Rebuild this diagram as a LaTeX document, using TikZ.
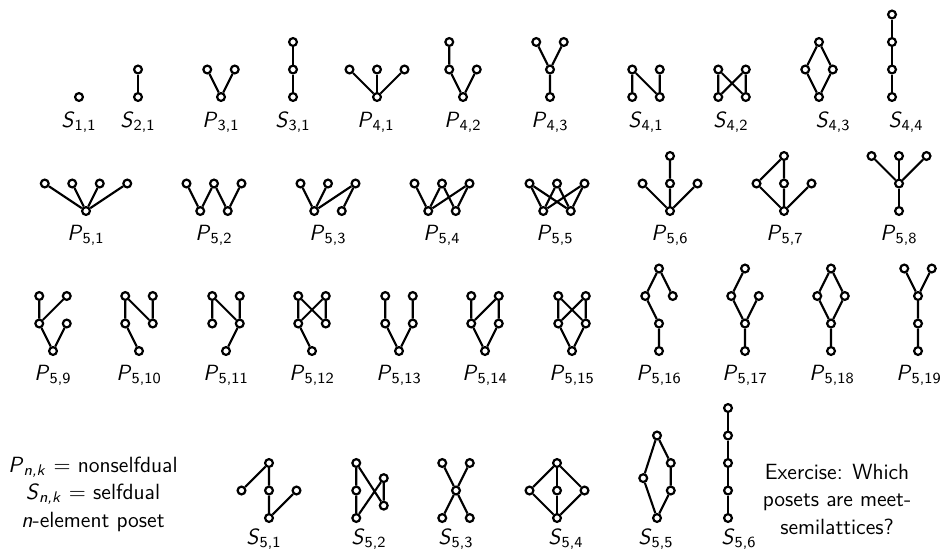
\documentclass[tikz,border=0pt]{standalone}
\usepackage{fontspec}
\newcommand{\pn}[2]{\textit{#1}\textsubscript{#2}}
\tikzset{
    % one element of a poset
    elt/.style={circle, draw, fill=white, line width=1.1pt,
                minimum size=3.9pt, inner sep=0pt},
    % covering relation
    cov/.style={line width=1.05pt},
    % local grid of one Hasse diagram (y goes up)
    hasse/.style={x=13.75pt, y=13.75pt},
    % name under a diagram
    lbl/.style={anchor=base, inner sep=0pt},
}
\begin{document}
\begin{tikzpicture}[x=0.5pt, y=-0.5pt, font=\sffamily\fontsize{11}{13.75}\selectfont]
  \useasboundingbox (0,0) rectangle (951,552);

  % --- row 1: up to four elements ---
  \begin{scope}[shift={(79,97)},hasse,name prefix=s11-]
    \node[elt] (a) at (0,0) {};
  \end{scope}
  \begin{scope}[shift={(138,97)},hasse,name prefix=s21-]
    \foreach \i in {0,1} \node[elt] (c\i) at (0,\i) {};
    \draw[cov] (c0) -- (c1);
  \end{scope}
  \begin{scope}[shift={(221,97)},hasse,name prefix=p31-]
    \node[elt] (a) at (0,0) {}; \node[elt] (b) at (-0.5,1) {}; \node[elt] (c) at (0.5,1) {};
    \draw[cov] (a) -- (b) (a) -- (c);
  \end{scope}
  \begin{scope}[shift={(293,97)},hasse,name prefix=s31-]
    \foreach \i in {0,1,2} \node[elt] (c\i) at (0,\i) {};
    \foreach \i [count=\j] in {0,1} \draw[cov] (c\i) -- (c\j);
  \end{scope}
  \begin{scope}[shift={(377,97)},hasse,name prefix=p41-]
    \node[elt] (a) at (0,0) {};
    \foreach \x [count=\i] in {-1,0,1} {\node[elt] (t\i) at (\x,1) {}; \draw[cov] (a) -- (t\i);}
  \end{scope}
  \begin{scope}[shift={(463,97)},hasse,name prefix=p42-]
    \node[elt] (a) at (0,0) {}; \node[elt] (b) at (-0.5,1) {}; \node[elt] (c) at (0.5,1) {};
    \node[elt] (d) at (-0.5,2) {};
    \draw[cov] (a) -- (b) (a) -- (c) (b) -- (d);
  \end{scope}
  \begin{scope}[shift={(550,97)},hasse,name prefix=p43-]
    \node[elt] (a) at (0,0) {}; \node[elt] (b) at (0,1) {};
    \node[elt] (c) at (-0.5,2) {}; \node[elt] (d) at (0.5,2) {};
    \draw[cov] (a) -- (b) (b) -- (c) (b) -- (d);
  \end{scope}
  \begin{scope}[shift={(646,97)},hasse,name prefix=s41-]
    \node[elt] (a) at (-0.5,0) {}; \node[elt] (b) at (0.5,0) {};
    \node[elt] (c) at (-0.5,1) {}; \node[elt] (d) at (0.5,1) {};
    \draw[cov] (a) -- (c) (b) -- (c) (b) -- (d);
  \end{scope}
  \begin{scope}[shift={(732,97)},hasse,name prefix=s42-]
    \node[elt] (a) at (-0.5,0) {}; \node[elt] (b) at (0.5,0) {};
    \node[elt] (c) at (-0.5,1) {}; \node[elt] (d) at (0.5,1) {};
    \draw[cov] (a) -- (c) (a) -- (d) (b) -- (c) (b) -- (d);
  \end{scope}
  \begin{scope}[shift={(819,97)},hasse,name prefix=s43-]
    \node[elt] (a) at (0,0) {}; \node[elt] (b) at (-0.5,1) {}; \node[elt] (c) at (0.5,1) {};
    \node[elt] (d) at (0,2) {};
    \draw[cov] (a) -- (b) (a) -- (c) (b) -- (d) (c) -- (d);
  \end{scope}
  \begin{scope}[shift={(892,97)},hasse,name prefix=s44-]
    \foreach \i in {0,...,3} \node[elt] (c\i) at (0,\i) {};
    \foreach \i [count=\j] in {0,1,2} \draw[cov] (c\i) -- (c\j);
  \end{scope}
  \foreach \x/\s/\k [count=\i] in {79/S/{1,1},138/S/{2,1},221/P/{3,1},293/S/{3,1},376/P/{4,1},
      463/P/{4,2},550/P/{4,3},646/S/{4,1},731/S/{4,2},833/S/{4,3},906/S/{4,4}}
    \node[lbl] (rowa-\i) at (\x,127) {\pn{\s}{\k}};

  % --- row 2: five elements, width >= 3 ---
  \begin{scope}[shift={(86,211)},hasse,name prefix=p51-]
    \node[elt] (a) at (0,0) {};
    \foreach \x [count=\i] in {-1.5,-0.5,0.5,1.5} {\node[elt] (t\i) at (\x,1) {}; \draw[cov] (a) -- (t\i);}
  \end{scope}
  \begin{scope}[shift={(214,211)},hasse,name prefix=p52-]
    \node[elt] (a) at (-0.5,0) {}; \node[elt] (b) at (0.5,0) {};
    \node[elt] (c) at (-1,1) {}; \node[elt] (d) at (0,1) {}; \node[elt] (e) at (1,1) {};
    \draw[cov] (c) -- (a) (d) -- (a) (d) -- (b) (e) -- (b);
  \end{scope}
  \begin{scope}[shift={(328,211)},hasse,name prefix=p53-]
    \node[elt] (a) at (-0.5,0) {}; \node[elt] (b) at (0.5,0) {};
    \node[elt] (c) at (-1,1) {}; \node[elt] (d) at (0,1) {}; \node[elt] (e) at (1,1) {};
    \draw[cov] (c) -- (a) (d) -- (a) (e) -- (a) (e) -- (b);
  \end{scope}
  \begin{scope}[shift={(442,211)},hasse,name prefix=p54-]
    \node[elt] (a) at (-0.5,0) {}; \node[elt] (b) at (0.5,0) {};
    \node[elt] (c) at (-1,1) {}; \node[elt] (d) at (0,1) {}; \node[elt] (e) at (1,1) {};
    \draw[cov] (c) -- (a) (d) -- (a) (d) -- (b) (e) -- (a) (e) -- (b);
  \end{scope}
  \begin{scope}[shift={(557,211)},hasse,name prefix=p55-]
    \node[elt] (a) at (-0.5,0) {}; \node[elt] (b) at (0.5,0) {};
    \node[elt] (c) at (-1,1) {}; \node[elt] (d) at (0,1) {}; \node[elt] (e) at (1,1) {};
    \foreach \t in {c,d,e} \draw[cov] (\t) -- (a) (\t) -- (b);
  \end{scope}
  \begin{scope}[shift={(670,211)},hasse,name prefix=p56-]
    \node[elt] (a) at (0,0) {};
    \node[elt] (b) at (-1,1) {}; \node[elt] (c) at (0,1) {}; \node[elt] (d) at (1,1) {};
    \node[elt] (e) at (0,2) {};
    \draw[cov] (a) -- (b) (a) -- (c) (a) -- (d) (c) -- (e);
  \end{scope}
  \begin{scope}[shift={(784,211)},hasse,name prefix=p57-]
    \node[elt] (a) at (0,0) {};
    \node[elt] (b) at (-1,1) {}; \node[elt] (c) at (0,1) {}; \node[elt] (d) at (1,1) {};
    \node[elt] (e) at (0,2) {};
    \draw[cov] (a) -- (b) (a) -- (c) (a) -- (d) (b) -- (e) (c) -- (e);
  \end{scope}
  \begin{scope}[shift={(899,211)},hasse,name prefix=p58-]
    \node[elt] (a) at (0,0) {}; \node[elt] (b) at (0,1) {};
    \draw[cov] (a) -- (b);
    \foreach \x [count=\i] in {-1,0,1} {\node[elt] (t\i) at (\x,2) {}; \draw[cov] (b) -- (t\i);}
  \end{scope}
  \foreach \x/\k [count=\i] in {86/1,214/2,328/3,442/4,555/5,670/6,785/7,899/8}
    \node[lbl] (rowb-\i) at (\x,240) {\pn{P}{5,\k}};

  % --- row 3: five elements, 2+2+1 and taller ---
  % shared layout: bottom a, middle b c, top d e
  \begin{scope}[shift={(53,351)},hasse,name prefix=p59-]
    \node[elt] (a) at (0,0) {}; \node[elt] (b) at (-0.5,1) {}; \node[elt] (c) at (0.5,1) {};
    \node[elt] (d) at (-0.5,2) {}; \node[elt] (e) at (0.5,2) {};
    \draw[cov] (a) -- (b) (a) -- (c) (b) -- (d) (b) -- (e);
  \end{scope}
  \begin{scope}[shift={(139,351)},hasse,name prefix=p510-]
    \node[elt] (a) at (0,0) {}; \node[elt] (b) at (-0.5,1) {}; \node[elt] (c) at (0.5,1) {};
    \node[elt] (d) at (-0.5,2) {}; \node[elt] (e) at (0.5,2) {};
    \draw[cov] (a) -- (b) (b) -- (d) (c) -- (d) (c) -- (e);
  \end{scope}
  \begin{scope}[shift={(226,351)},hasse,name prefix=p511-]
    \node[elt] (a) at (0,0) {}; \node[elt] (b) at (-0.5,1) {}; \node[elt] (c) at (0.5,1) {};
    \node[elt] (d) at (-0.5,2) {}; \node[elt] (e) at (0.5,2) {};
    \draw[cov] (a) -- (c) (b) -- (d) (c) -- (d) (c) -- (e);
  \end{scope}
  \begin{scope}[shift={(312,351)},hasse,name prefix=p512-]
    \node[elt] (a) at (0,0) {}; \node[elt] (b) at (-0.5,1) {}; \node[elt] (c) at (0.5,1) {};
    \node[elt] (d) at (-0.5,2) {}; \node[elt] (e) at (0.5,2) {};
    \draw[cov] (a) -- (b) (b) -- (d) (b) -- (e) (c) -- (d) (c) -- (e);
  \end{scope}
  \begin{scope}[shift={(399,351)},hasse,name prefix=p513-]
    \node[elt] (a) at (0,0) {}; \node[elt] (b) at (-0.5,1) {}; \node[elt] (c) at (0.5,1) {};
    \node[elt] (d) at (-0.5,2) {}; \node[elt] (e) at (0.5,2) {};
    \draw[cov] (a) -- (b) (a) -- (c) (b) -- (d) (c) -- (e);
  \end{scope}
  \begin{scope}[shift={(485,351)},hasse,name prefix=p514-]
    \node[elt] (a) at (0,0) {}; \node[elt] (b) at (-0.5,1) {}; \node[elt] (c) at (0.5,1) {};
    \node[elt] (d) at (-0.5,2) {}; \node[elt] (e) at (0.5,2) {};
    \draw[cov] (a) -- (b) (a) -- (c) (b) -- (d) (b) -- (e) (c) -- (e);
  \end{scope}
  \begin{scope}[shift={(572,351)},hasse,name prefix=p515-]
    \node[elt] (a) at (0,0) {}; \node[elt] (b) at (-0.5,1) {}; \node[elt] (c) at (0.5,1) {};
    \node[elt] (d) at (-0.5,2) {}; \node[elt] (e) at (0.5,2) {};
    \draw[cov] (a) -- (b) (a) -- (c) (b) -- (d) (b) -- (e) (c) -- (d) (c) -- (e);
  \end{scope}
  % taller ones: bottom a, b above it, c d at level 2, e on top
  \begin{scope}[shift={(659,351)},hasse,name prefix=p516-]
    \node[elt] (a) at (0,0) {}; \node[elt] (b) at (0,1) {};
    \node[elt] (c) at (-0.5,2) {}; \node[elt] (d) at (0.5,2) {}; \node[elt] (e) at (0,3) {};
    \draw[cov] (a) -- (b) (b) -- (c) (c) -- (e) (d) -- (e);
  \end{scope}
  \begin{scope}[shift={(745,351)},hasse,name prefix=p517-]
    \node[elt] (a) at (0,0) {}; \node[elt] (b) at (0,1) {};
    \node[elt] (c) at (-0.5,2) {}; \node[elt] (d) at (0.5,2) {}; \node[elt] (e) at (0,3) {};
    \draw[cov] (a) -- (b) (b) -- (c) (b) -- (d) (c) -- (e);
  \end{scope}
  \begin{scope}[shift={(831,351)},hasse,name prefix=p518-]
    \node[elt] (a) at (0,0) {}; \node[elt] (b) at (0,1) {};
    \node[elt] (c) at (-0.5,2) {}; \node[elt] (d) at (0.5,2) {}; \node[elt] (e) at (0,3) {};
    \draw[cov] (a) -- (b) (b) -- (c) (b) -- (d) (c) -- (e) (d) -- (e);
  \end{scope}
  \begin{scope}[shift={(918,351)},hasse,name prefix=p519-]
    \node[elt] (a) at (0,0) {}; \node[elt] (b) at (0,1) {}; \node[elt] (c) at (0,2) {};
    \node[elt] (d) at (-0.5,3) {}; \node[elt] (e) at (0.5,3) {};
    \draw[cov] (a) -- (b) (b) -- (c) (c) -- (d) (c) -- (e);
  \end{scope}
  \foreach \x/\k [count=\i] in {53/9,139/10,226/11,312/12,399/13,485/14,572/15,659/16,745/17,832/18,919/19}
    \node[lbl] (rowc-\i) at (\x,380) {\pn{P}{5,\k}};

  % --- row 4: legend, selfdual five-element posets, exercise ---
  \node[align=center] (legend) at (93,494)
    {\pn{P}{\textit{n,k}} $=$ nonselfdual\\ \pn{S}{\textit{n,k}} $=$ selfdual\\ \textit{n}-element poset};

  \begin{scope}[shift={(269,518)},hasse,name prefix=s51-]
    \node[elt] (a) at (0,0) {}; \node[elt] (b) at (0,1) {}; \node[elt] (c) at (0,2) {};
    \node[elt] (d) at (-1,1) {}; \node[elt] (e) at (1,1) {};
    \draw[cov] (a) -- (b) (b) -- (c) (d) -- (c) (a) -- (e);
  \end{scope}
  \begin{scope}[shift={(370,518)},hasse,name prefix=s52-]
    \node[elt] (a) at (-0.5,0) {}; \node[elt] (b) at (-0.5,1) {}; \node[elt] (c) at (-0.5,2) {};
    \node[elt] (d) at (0.5,0.45) {}; \node[elt] (e) at (0.5,1.45) {};
    \draw[cov] (a) -- (b) (b) -- (c) (c) -- (d) (a) -- (e) (d) -- (e);
  \end{scope}
  \begin{scope}[shift={(456,518)},hasse,name prefix=s53-]
    \node[elt] (m) at (0,1) {};
    \foreach \x/\y [count=\i] in {-0.5/0,0.5/0,-0.5/2,0.5/2} {\node[elt] (o\i) at (\x,\y) {}; \draw[cov] (m) -- (o\i);}
  \end{scope}
  \begin{scope}[shift={(557,518)},hasse,name prefix=s54-]
    \node[elt] (a) at (0,0) {}; \node[elt] (e) at (0,2) {};
    \foreach \x [count=\i] in {-1,0,1} {\node[elt] (m\i) at (\x,1) {}; \draw[cov] (a) -- (m\i) -- (e);}
  \end{scope}
  \begin{scope}[shift={(657,518)},hasse,name prefix=s55-]
    \node[elt] (a) at (0,0) {}; \node[elt] (b) at (-0.5,1.45) {};
    \node[elt] (c) at (0.5,1) {}; \node[elt] (d) at (0.5,2) {}; \node[elt] (e) at (0,3) {};
    \draw[cov] (a) -- (b) (b) -- (e) (a) -- (c) (c) -- (d) (d) -- (e);
  \end{scope}
  \begin{scope}[shift={(728,518)},hasse,name prefix=s56-]
    \foreach \i in {0,...,4} \node[elt] (c\i) at (0,\i) {};
    \foreach \i [count=\j] in {0,...,3} \draw[cov] (c\i) -- (c\j);
  \end{scope}
  \foreach \x/\k [count=\i] in {264/1,369/2,456/3,566/4,656/5,739/6}
    \node[lbl] (rowd-\i) at (\x,544) {\pn{S}{5,\k}};

  \node[align=center] (exercise) at (837,499)
    {Exercise: Which\\ posets are meet-\\ semilattices?};
\end{tikzpicture}
\end{document}
